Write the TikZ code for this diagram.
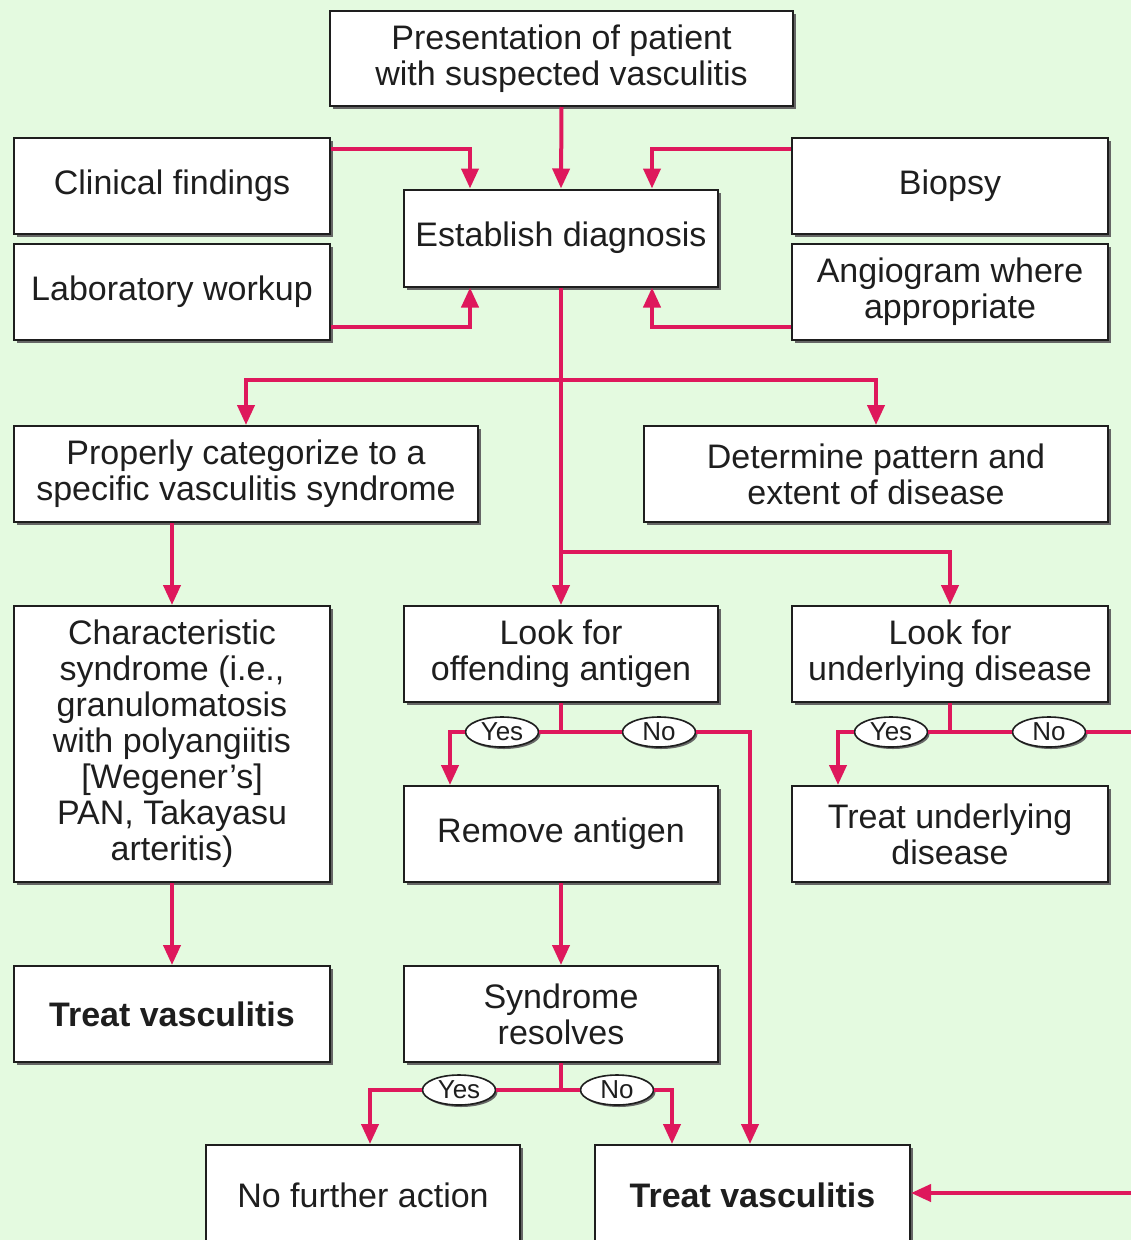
\documentclass[tikz,border=0pt]{standalone}
\usepackage{fontspec}
\setmainfont{Liberation Sans}
\usetikzlibrary{arrows.meta,shadows,shapes.geometric}
\definecolor{pagebg}{RGB}{228,250,224}
\definecolor{flow}{RGB}{222,24,92}
\definecolor{ink}{RGB}{30,30,30}
\begin{document}
\begin{tikzpicture}[x=1pt,y=-1pt,
  box/.style={draw=ink,line width=2pt,fill=white,align=center,inner sep=0pt,
    text=ink,font=\fontsize{34}{36}\selectfont,
    minimum width=316pt,minimum height=96pt,
    drop shadow={shadow xshift=3pt,shadow yshift=-3pt,fill=black!60,opacity=1}},
  wide/.style={minimum width=464pt},
  answer/.style={ellipse,draw=ink,line width=1.6pt,fill=white,inner sep=0pt,
    text=ink,font=\fontsize{26}{28}\selectfont,
    minimum width=73pt,minimum height=30pt,
    drop shadow={shadow xshift=2pt,shadow yshift=-2pt,fill=black!60,opacity=1}},
  link/.style={draw=flow,line width=4pt},
  arrow/.style={link,-{Triangle[length=20pt,width=17pt]}},
]
% page
\clip (0,0) rectangle (1131,1240);
\fill[pagebg] (0,0) rectangle (1131,1240);

% boxes
\node[box,minimum width=463pt,minimum height=95pt] (pres) at (561.5,58.5)
  {Presentation of patient\\with suspected vasculitis};
\node[box] (clin) at (172,186) {Clinical findings};
\node[box] (lab) at (172,292) {Laboratory workup};
\node[box,minimum width=314pt,minimum height=97pt] (est) at (561,238) {Establish diagnosis};
\node[box] (biop) at (950,186) {Biopsy};
\node[box] (angio) at (950,292) {Angiogram where\\appropriate};
\node[box,wide] (cat) at (246,474) {Properly categorize to a\\specific vasculitis syndrome};
\node[box,wide] (pat) at (876,474) {Determine pattern and\\extent of disease};
\node[box,minimum height=276pt] (char) at (172,744)
  {Characteristic\\syndrome (i.e.,\\granulomatosis\\with polyangiitis\\{}[Wegener's]\\PAN, Takayasu\\arteritis)};
\node[box,minimum width=314pt] (lookag) at (561,654) {Look for\\offending antigen};
\node[box] (lookud) at (950,654) {Look for\\underlying disease};
\node[box,minimum width=314pt] (rem) at (561,834) {Remove antigen};
\node[box] (treatud) at (950,834) {Treat underlying\\disease};
\node[box,font=\fontsize{34}{36}\selectfont\bfseries] (tvleft) at (172,1014) {Treat vasculitis};
\node[box,minimum width=314pt] (synd) at (561,1014) {Syndrome\\resolves};
\node[box,minimum width=314pt,minimum height=100pt] (nfa) at (363,1195) {No further action};
\node[box,minimum width=315pt,minimum height=100pt,font=\fontsize{34}{36}\selectfont\bfseries]
  (tvmain) at (752.5,1195) {Treat vasculitis};

% decision labels
\node[answer] (yes1) at (502,732) {Yes};
\node[answer] (no1) at (659,732) {No};
\node[answer] (yes2) at (891,732) {Yes};
\node[answer] (no2) at (1049,732) {No};
\node[answer] (yes3) at (459,1090) {Yes};
\node[answer] (no3) at (617,1090) {No};

% junctions
\coordinate (split1) at (561,380);
\coordinate (split2) at (561,552);
\coordinate (ja) at (561,732);
\coordinate (ju) at (950,732);
\coordinate (js) at (561,1090);
\coordinate (offright) at (1150,732);
\coordinate (offlow) at (1150,1193);

% connectors
\draw[arrow] (pres.south) -- (est.north);
\draw[arrow] ([yshift=-12pt]clin.north east) -| ([xshift=-91pt]est.north);
\draw[arrow] ([yshift=14pt]lab.south east) -| ([xshift=-91pt]est.south);
\draw[arrow] ([yshift=-12pt]biop.north west) -| ([xshift=91pt]est.north);
\draw[arrow] ([yshift=14pt]angio.south west) -| ([xshift=91pt]est.south);

\draw[link] (est.south) -- (split2);
\draw[arrow] (split1) -| (cat.north);
\draw[arrow] (split1) -| (pat.north);
\draw[arrow] (split2) -- (lookag.north);
\draw[arrow] (split2) -| (lookud.north);

\draw[arrow] (char.north |- cat.south) -- (char.north);
\draw[arrow] (char.south) -- (tvleft.north);

\draw[link] (lookag.south) -- (ja);
\draw[link] (ja) -- (yes1);
\draw[arrow] (yes1) -| ([xshift=-111pt]rem.north);
\draw[link] (ja) -- (no1);
\draw[arrow] (no1) -| ([xshift=-2.5pt]tvmain.north);

\draw[link] (lookud.south) -- (ju);
\draw[link] (ju) -- (yes2);
\draw[arrow] (yes2) -| ([xshift=-112pt]treatud.north);
\draw[link] (ju) -- (no2);
\draw[link] (no2) -- (offright) -- (offlow);
\draw[arrow] (offlow) -- (offlow -| tvmain.east);

\draw[arrow] (rem.south) -- (synd.north);
\draw[link] (synd.south) -- (js);
\draw[link] (js) -- (yes3);
\draw[arrow] (yes3) -| ([xshift=7pt]nfa.north);
\draw[link] (js) -- (no3);
\draw[arrow] (no3) -| ([xshift=-80.5pt]tvmain.north);
\end{tikzpicture}
\end{document}
